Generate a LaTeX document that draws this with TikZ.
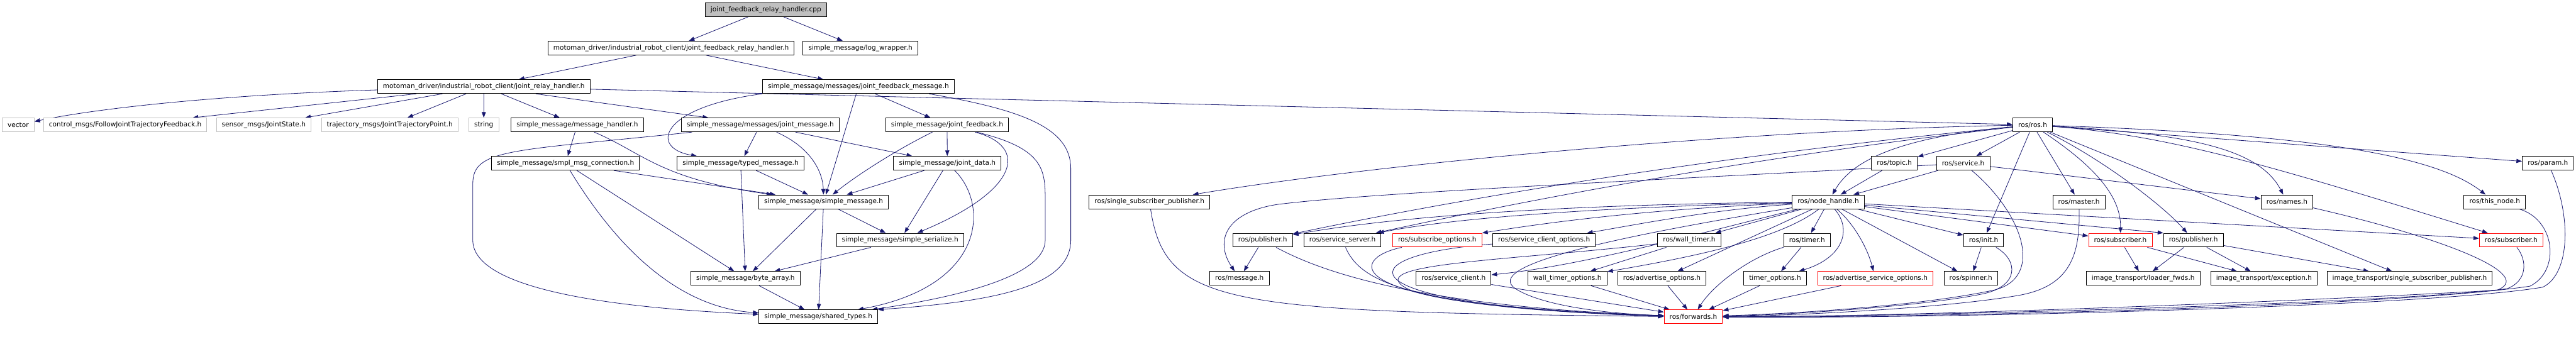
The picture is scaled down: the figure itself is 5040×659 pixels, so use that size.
\documentclass[tikz,border=0pt]{standalone}
\usepackage{fontspec}
\setmainfont{DejaVu Sans}
\usetikzlibrary{arrows.meta}
\definecolor{edgeblue}{RGB}{25,25,112}
\definecolor{extgray}{RGB}{191,191,191}
\pgfdeclarelayer{edges}
\pgfsetlayers{edges,main}

\begin{document}
\begin{tikzpicture}[x=0.5pt,y=-0.5pt,>={Triangle[length=5.5pt,width=4pt]},
  hdr/.style={draw=black,fill=white,line width=0.6pt,inner xsep=5.3pt,inner ysep=0pt,minimum height=13.5pt,font=\fontsize{6.5}{7}\selectfont},
  ext/.style={hdr,draw=extgray},
  undoc/.style={hdr,draw=red},
  src/.style={hdr,fill=extgray},
  inc/.style={->,draw=edgeblue,line width=0.5pt}]
  \useasboundingbox (0,0) rectangle (5040,659);

  % simple_message side
  \node[src] (cpp) at (1498.5,19) {joint\_feedback\_relay\_handler.cpp};
  \node[hdr] (jfrh) at (1313,94) {motoman\_driver/industrial\_robot\_client/joint\_feedback\_relay\_handler.h};
  \node[hdr] (logw) at (1683.5,94) {simple\_message/log\_wrapper.h};
  \node[hdr] (jrh) at (946.5,169.5) {motoman\_driver/industrial\_robot\_client/joint\_relay\_handler.h};
  \node[hdr] (jfm) at (1679.5,169.5) {simple\_message/messages/joint\_feedback\_message.h};
  \node[ext] (vector) at (35.5,244.5) {vector};
  \node[ext] (ctrl) at (245,244.5) {control\_msgs/FollowJointTrajectoryFeedback.h};
  \node[ext] (jstate) at (516,244.5) {sensor\_msgs/JointState.h};
  \node[ext] (trajpt) at (762.5,244.5) {trajectory\_msgs/JointTrajectoryPoint.h};
  \node[ext] (string) at (946.5,244.5) {string};
  \node[hdr] (msghdl) at (1129.5,244.5) {simple\_message/message\_handler.h};
  \node[hdr] (jmsg) at (1487.5,244.5) {simple\_message/messages/joint\_message.h};
  \node[hdr] (jfb) at (1853,244.5) {simple\_message/joint\_feedback.h};
  \node[hdr] (conn) at (1106.5,319.5) {simple\_message/smpl\_msg\_connection.h};
  \node[hdr] (typed) at (1449,319.5) {simple\_message/typed\_message.h};
  \node[hdr] (jdata) at (1853.5,319.5) {simple\_message/joint\_data.h};
  \node[hdr] (smsg) at (1611.5,395) {simple\_message/simple\_message.h};
  \node[hdr] (ser) at (1761,470) {simple\_message/simple\_serialize.h};
  \node[hdr] (bytes) at (1458.5,545) {simple\_message/byte\_array.h};
  \node[hdr] (shared) at (1601,620) {simple\_message/shared\_types.h};

  % ros side
  \node[hdr] (rosh) at (3977,244.5) {ros/ros.h};
  \node[hdr] (topic) at (3706.5,319.5) {ros/topic.h};
  \node[hdr] (service) at (3841,319.5) {ros/service.h};
  \node[hdr] (param) at (4985,319.5) {ros/param.h};
  \node[hdr] (ssp) at (2249,395) {ros/single\_subscriber\_publisher.h};
  \node[hdr] (nh) at (3577,395) {ros/node\_handle.h};
  \node[hdr] (master) at (4067.5,395) {ros/master.h};
  \node[hdr] (names) at (4474.5,395) {ros/names.h};
  \node[hdr] (thisnode) at (4881,395) {ros/this\_node.h};
  \node[hdr] (pubA) at (2470.5,470) {ros/publisher.h};
  \node[hdr] (srvsrv) at (2626.5,470) {ros/service\_server.h};
  \node[undoc] (subopt) at (2812,470) {ros/subscribe\_options.h};
  \node[hdr] (srvcliopt) at (3021,470) {ros/service\_client\_options.h};
  \node[hdr] (walltimer) at (3305,470) {ros/wall\_timer.h};
  \node[hdr] (timer) at (3535.5,470) {ros/timer.h};
  \node[hdr] (init) at (3881,470) {ros/init.h};
  \node[undoc] (subA) at (4148.5,470) {ros/subscriber.h};
  \node[hdr] (pubB) at (4291.5,470) {ros/publisher.h};
  \node[undoc] (subB) at (4913,470) {ros/subscriber.h};
  \node[hdr] (message) at (2425,545) {ros/message.h};
  \node[hdr] (srvcli) at (2844,545) {ros/service\_client.h};
  \node[hdr] (wtopt) at (3066.5,545) {wall\_timer\_options.h};
  \node[hdr] (advopt) at (3251.5,545) {ros/advertise\_options.h};
  \node[hdr] (topt) at (3473,545) {timer\_options.h};
  \node[undoc] (advsrvopt) at (3669,545) {ros/advertise\_service\_options.h};
  \node[hdr] (spinner) at (3856,545) {ros/spinner.h};
  \node[hdr] (loader) at (4193,545) {image\_transport/loader\_fwds.h};
  \node[hdr] (exc) at (4429.5,545) {image\_transport/exception.h};
  \node[hdr] (itssp) at (4714.5,545) {image\_transport/single\_subscriber\_publisher.h};
  \node[undoc] (fwd) at (3313,620) {ros/forwards.h};

  \begin{pgfonlayer}{edges}
  % includes, simple_message side
  \draw[inc] (cpp) -- (jfrh);
  \draw[inc] (cpp) -- (logw);
  \draw[inc] (jfrh) -- (jrh);
  \draw[inc] (jfrh) -- (jfm);
  \draw[inc] (jrh) .. controls (450,185) and (200,210) .. (vector);
  \draw[inc] (jrh) -- (ctrl);
  \draw[inc] (jrh) -- (jstate);
  \draw[inc] (jrh) -- (trajpt);
  \draw[inc] (jrh) -- (string);
  \draw[inc] (jrh) -- (msghdl);
  \draw[inc] (jrh) -- (jmsg);
  \draw[inc] (jrh) -- (rosh);
  \draw[inc] (jfm.south west) .. controls (1290,210) and (1270,290) .. (typed);
  \draw[inc] (jfm) -- (smsg);
  \draw[inc] (jfm) -- (jfb);
  \draw[inc] ([xshift=-25pt]jfm.south east) .. controls (2000,215) and (2095,250) .. (2095,330) -- (2095,470)
    .. controls (2095,560) and (1950,590) .. (shared.north east);
  \draw[inc] (jmsg) -- (typed);
  \draw[inc] (jmsg) .. controls (1590,290) and (1610,340) .. (smsg);
  \draw[inc] (jmsg) -- (jdata);
  \draw[inc] (jmsg) .. controls (1000,296) and (925,290) .. (925,360) -- (925,470)
    .. controls (925,575) and (1250,605) .. (shared);
  \draw[inc] (msghdl) -- (conn);
  \draw[inc] (msghdl) .. controls (1260,300) and (1290,350) .. (smsg);
  \draw[inc] (conn) -- (smsg);
  \draw[inc] (conn) -- (bytes);
  \draw[inc] (conn) .. controls (1180,440) and (1300,600) .. (shared);
  \draw[inc] (typed) -- (smsg);
  \draw[inc] (typed) -- (bytes);
  \draw[inc] (smsg) -- (bytes);
  \draw[inc] (smsg) -- (shared);
  \draw[inc] (smsg) -- (ser);
  \draw[inc] (jfb) .. controls (1760,290) and (1680,340) .. (smsg);
  \draw[inc] (jfb) -- (jdata);
  \draw[inc] (jfb) .. controls (2010,285) and (2000,370) .. (ser);
  \draw[inc] (jfb) .. controls (2040,290) and (2045,330) .. (2045,390) -- (2045,470)
    .. controls (2045,545) and (1850,585) .. ([xshift=-6pt]shared.north east);
  \draw[inc] (jdata) -- (smsg);
  \draw[inc] (jdata) -- (ser);
  \draw[inc] (jdata) .. controls (1935,400) and (1930,560) .. (shared);
  \draw[inc] (ser) -- (bytes);
  \draw[inc] (bytes) -- (shared);

  % includes, ros side
  \draw[inc] (rosh) .. controls (3400,255) and (2700,320) .. (ssp);
  \draw[inc] (rosh) .. controls (3400,300) and (2900,380) .. (pubA);
  \draw[inc] (rosh) .. controls (3400,310) and (2950,400) .. (srvsrv);
  \draw[inc] (rosh) .. controls (3700,270) and (3620,320) .. (nh);
  \draw[inc] (rosh) -- (topic);
  \draw[inc] (rosh) -- (service);
  \draw[inc] (rosh) -- (init);
  \draw[inc] (rosh) -- (master);
  \draw[inc] (rosh) .. controls (4090,320) and (4150,380) .. (subA);
  \draw[inc] (rosh) .. controls (4110,310) and (4230,400) .. (pubB);
  \draw[inc] (rosh) -- (itssp);
  \draw[inc] (rosh) .. controls (4280,262) and (4420,290) .. (names);
  \draw[inc] (rosh) .. controls (4500,262) and (4760,300) .. (thisnode);
  \draw[inc] (rosh) -- (param);
  \draw[inc] (rosh) .. controls (4250,265) and (4450,327) .. (subB);
  \draw[inc] (topic) -- (nh);
  \draw[inc] (service) -- (nh);
  \draw[inc] (service) -- (names);
  \draw[inc] (service) .. controls (3300,350) and (2700,375) .. (2500,400)
    .. controls (2400,415) and (2375,470) .. (message);
  \draw[inc] (service) .. controls (3960,420) and (4000,545) .. (3900,568)
    .. controls (3750,600) and (3500,614) .. (fwd);
  \draw[inc] (nh) .. controls (3100,400) and (2750,420) .. (pubA);
  \draw[inc] (nh) .. controls (3150,405) and (2850,425) .. (srvsrv);
  \draw[inc] (nh) .. controls (3200,410) and (3000,440) .. (subopt);
  \draw[inc] (nh) .. controls (3350,410) and (3200,440) .. (srvcliopt);
  \draw[inc] (nh) .. controls (3350,450) and (3100,520) .. (srvcli);
  \draw[inc] (nh) -- (walltimer);
  \draw[inc] (nh) -- (timer);
  \draw[inc] (nh) -- (advopt);
  \draw[inc] (nh) .. controls (3480,470) and (3300,505) .. (wtopt);
  \draw[inc] (nh) .. controls (3625,450) and (3605,505) .. (topt);
  \draw[inc] (nh) .. controls (3630,440) and (3655,490) .. (advsrvopt);
  \draw[inc] (nh) -- (spinner);
  \draw[inc] (nh) -- (init);
  \draw[inc] (nh) -- (subA);
  \draw[inc] (nh) -- (pubB.north west);
  \draw[inc] (nh) -- (subB);
  \draw[inc] (nh) .. controls (3150,465) and (2900,520) .. (2965,565)
    .. controls (3020,600) and (3150,614) .. (fwd);
  \draw[inc] (pubA) -- (message);
  \draw[inc] (pubA) .. controls (2600,540) and (2800,600) .. (fwd);
  \draw[inc] (srvsrv) .. controls (2665,560) and (2780,600) .. (fwd);
  \draw[inc] (subopt) .. controls (2640,505) and (2600,600) .. (fwd);
  \draw[inc] (srvcliopt) .. controls (2620,500) and (2620,600) .. (fwd);
  \draw[inc] (srvcli) -- (fwd);
  \draw[inc] (ssp) .. controls (2280,600) and (2400,610) .. (fwd);
  \draw[inc] (walltimer) -- (wtopt);
  \draw[inc] (walltimer) .. controls (2950,510) and (2680,515) .. (2745,560)
    .. controls (2790,595) and (3100,615) .. (fwd);
  \draw[inc] (timer) -- (topt);
  \draw[inc] (timer) .. controls (3420,505) and (3350,560) .. (fwd);
  \draw[inc] (wtopt) -- (fwd);
  \draw[inc] (advopt) -- (fwd);
  \draw[inc] (topt) -- (fwd);
  \draw[inc] (advsrvopt) -- (fwd);
  \draw[inc] (init) -- (spinner);
  \draw[inc] (init) .. controls (3950,510) and (3950,560) .. (3880,575)
    .. controls (3760,600) and (3500,616) .. (fwd);
  \draw[inc] (master) .. controls (4070,500) and (4050,560) .. (3950,578)
    .. controls (3800,604) and (3500,618) .. (fwd);
  \draw[inc] (names) .. controls (4800,470) and (4960,540) .. (4885,568)
    .. controls (4500,590) and (3700,621) .. (fwd);
  \draw[inc] (thisnode) .. controls (5000,430) and (5010,530) .. (4950,560)
    .. controls (4700,598) and (3800,622) .. (fwd);
  \draw[inc] (param) .. controls (5030,420) and (5030,535) .. (4975,562)
    .. controls (4750,600) and (3800,624) .. (fwd);
  \draw[inc] (subB) .. controls (4945,510) and (4945,550) .. (4905,565)
    .. controls (4700,592) and (3800,619) .. (fwd);
  \draw[inc] (subA) -- (loader);
  \draw[inc] (subA) -- (exc);
  \draw[inc] (pubB) -- (loader);
  \draw[inc] (pubB) -- (exc);
  \draw[inc] (pubB) -- (itssp);
  \end{pgfonlayer}
\end{tikzpicture}
\end{document}
